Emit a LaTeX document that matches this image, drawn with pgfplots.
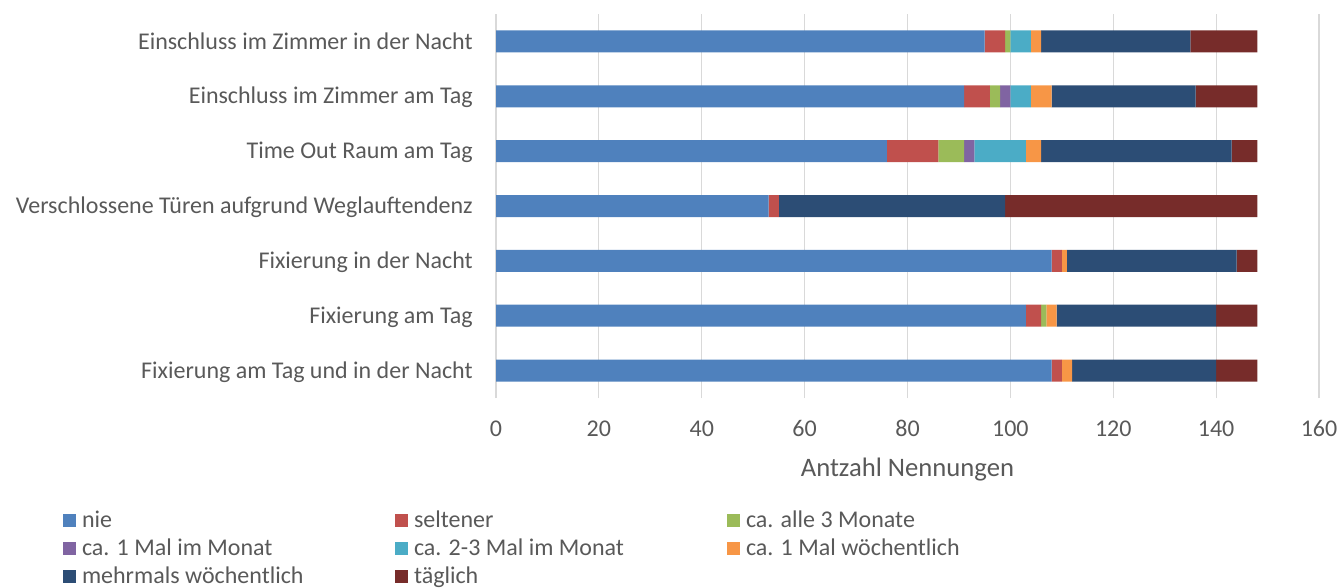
\documentclass[border=0pt]{standalone}
\usepackage{fontspec}
\setmainfont{Carlito}
\usepackage{pgfplots}
\pgfplotsset{compat=1.18}
\definecolor{cNie}{HTML}{4F81BD}
\definecolor{cSel}{HTML}{C0504D}
\definecolor{cDrei}{HTML}{9BBB59}
\definecolor{cEinM}{HTML}{8064A2}
\definecolor{cZweiM}{HTML}{4BACC6}
\definecolor{cEinW}{HTML}{F79646}
\definecolor{cMehr}{HTML}{2C4D75}
\definecolor{cTag}{HTML}{772C2A}
\definecolor{textgray}{HTML}{595959}
\definecolor{gridgray}{HTML}{D9D9D9}
\pgfplotsset{sqlegend/.style={legend image code/.code={\fill[##1] (0pt,-4.75pt) rectangle (9.5pt,4.75pt);}}}
\newcommand{\LE}[1]{\makebox[235pt][l]{#1}}
\begin{document}
\fontsize{18pt}{21pt}\selectfont
\begin{tikzpicture}
\useasboundingbox (0,0) rectangle (1003.5pt,440.25pt);
\begin{axis}[
  at={(372pt,141.75pt)}, anchor=south west,
  scale only axis, width=617.25pt, height=288pt,
  xbar stacked, bar width=16.5pt,
  xmin=0, xmax=160, xtick={0,20,...,160},
  ymin=-0.5, ymax=6.5, ytick={0,...,6},
  yticklabels={Fixierung am Tag und in der Nacht, Fixierung am Tag, Fixierung in der Nacht, Verschlossene Türen aufgrund Weglauftendenz, Time Out Raum am Tag, Einschluss im Zimmer am Tag, Einschluss im Zimmer in der Nacht},
  axis line style={draw=none},
  major tick length=0pt,
  xmajorgrids, grid style={gridgray, line width=0.9pt},
  /pgf/number format/assume math mode=true,
  tick label style={color=textgray},
  xticklabel style={anchor=base, inner sep=0pt, yshift=-29pt},
  yticklabel style={anchor=base east, inner sep=0pt, xshift=-17.25pt, yshift=-5.7pt},
  xlabel={Antzahl Nennungen},
  xlabel style={at={(axis description cs:0.5,0)}, anchor=base, inner sep=0pt, yshift=-58.5pt, color=textgray, font=\fontsize{20pt}{24pt}\selectfont},
  legend cell align=left,
  legend columns=3,
  legend style={at={(-0.5257,-0.30295)}, anchor=north west, draw=none, fill=none, inner sep=0pt, outer sep=0pt, row sep=11.5pt, text=textgray,
    nodes={inner sep=0pt, text height=9.5pt, text depth=0pt},
    /tikz/every odd column/.append style={column sep=4.5pt}},
]
\addplot[fill=cNie, draw=none, sqlegend] coordinates {(95,6) (91,5) (76,4) (53,3) (108,2) (103,1) (108,0)};
\addlegendentry{\LE{nie}}
\addplot[fill=cSel, draw=none, sqlegend] coordinates {(4,6) (5,5) (10,4) (2,3) (2,2) (3,1) (2,0)};
\addlegendentry{\LE{seltener}}
\addplot[fill=cDrei, draw=none, sqlegend] coordinates {(1,6) (2,5) (5,4) (0,3) (0,2) (1,1) (0,0)};
\addlegendentry{\LE{ca. alle 3 Monate}}
\addplot[fill=cEinM, draw=none, sqlegend] coordinates {(0,6) (2,5) (2,4) (0,3) (0,2) (0,1) (0,0)};
\addlegendentry{\LE{ca. 1 Mal im Monat}}
\addplot[fill=cZweiM, draw=none, sqlegend] coordinates {(4,6) (4,5) (10,4) (0,3) (0,2) (0,1) (0,0)};
\addlegendentry{\LE{ca. 2-3 Mal im Monat}}
\addplot[fill=cEinW, draw=none, sqlegend] coordinates {(2,6) (4,5) (3,4) (0,3) (1,2) (2,1) (2,0)};
\addlegendentry{\LE{ca. 1 Mal wöchentlich}}
\addplot[fill=cMehr, draw=none, sqlegend] coordinates {(29,6) (28,5) (37,4) (44,3) (33,2) (31,1) (28,0)};
\addlegendentry{\LE{mehrmals wöchentlich}}
\addplot[fill=cTag, draw=none, sqlegend] coordinates {(13,6) (12,5) (5,4) (49,3) (4,2) (8,1) (8,0)};
\addlegendentry{\LE{täglich}}
\end{axis}
\end{tikzpicture}
\end{document}
